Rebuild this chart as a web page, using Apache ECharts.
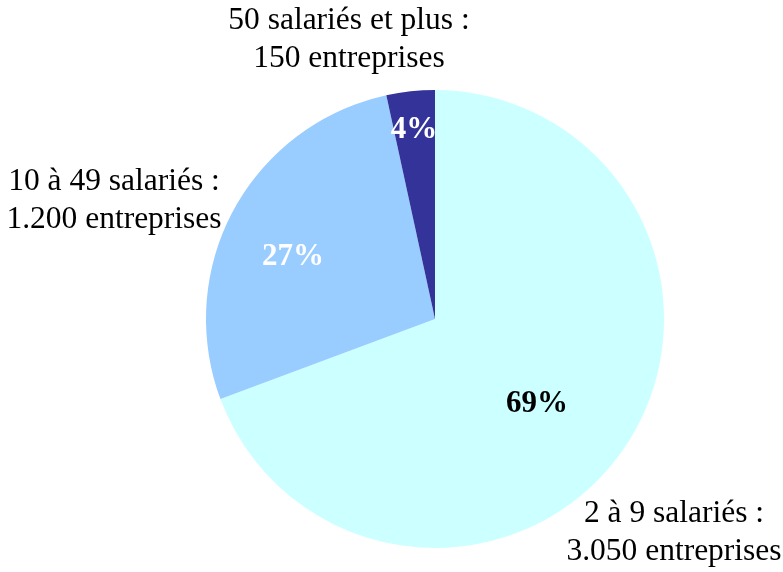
<!DOCTYPE html>
<html>
<head>
<meta charset="utf-8">
<script src="https://cdn.jsdelivr.net/npm/echarts@6/dist/echarts.min.js"></script>
<style>
  html, body { margin: 0; padding: 0; background: #fff; }
  #chart { width: 783px; height: 572px; }
</style>
</head>
<body>
<div id="chart"></div>
<script>
// tranches d'effectif, dans l'ordre du tracé (à partir de midi, sens horaire)
var categories = ['2 à 9 salariés', '10 à 49 salariés', '50 salariés et plus'];
var entreprises = [3050, 1200, 150];
var entreprisesTxt = ['3.050', '1.200', '150'];
var pourcents = ['69%', '27%', '4%'];
var couleurs = ['#CCFFFF', '#99CCFF', '#333399'];
var couleursTexte = ['#000', '#fff', '#fff'];
// placement du libellé % : fraction du rayon et décalage d'angle (degrés)
var rayonLibelle = [0.576, 0.678, 0.834];
var decalAngle = [4.5, -4.7, -0.2];

var CX = 435, CY = 319, R = 229;
var police = '"Liberation Serif", "Times New Roman", serif';

var total = entreprises.reduce(function (a, b) { return a + b; }, 0);
// angle médian de chaque part, en degrés depuis midi (sens horaire)
var anglesMilieu = [];
var cumul = 0;
entreprises.forEach(function (v) {
  anglesMilieu.push((cumul + v / 2) / total * 360);
  cumul += v;
});

var myChart = echarts.init(document.getElementById('chart'));

var data = categories.map(function (c, i) {
  return {
    name: c,
    value: entreprises[i],
    itemStyle: { color: couleurs[i] },
    label: { color: couleursTexte[i], formatter: pourcents[i] }
  };
});

// libellés extérieurs (centre du bloc de deux lignes)
var posExt = [
  { x: 674, y: 533 },
  { x: 114, y: 201 },
  { x: 349, y: 40 }
];
var graphics = categories.map(function (c, i) {
  return {
    type: 'text',
    x: posExt[i].x,
    y: posExt[i].y,
    style: {
      text: c + ' :\n' + entreprisesTxt[i] + ' entreprises',
      font: '31.5px ' + police,
      fill: '#000',
      align: 'center',
      verticalAlign: 'middle',
      lineHeight: 38
    }
  };
});

var option = {
  animation: false,
  backgroundColor: '#fff',
  graphic: graphics,
  series: [{
    type: 'pie',
    center: [CX, CY],
    radius: R,
    startAngle: 90,
    clockwise: true,
    silent: true,
    itemStyle: { borderWidth: 0 },
    label: {
      show: true,
      position: 'inside',
      fontFamily: police,
      fontSize: 31,
      fontWeight: 'bold'
    },
    labelLine: { show: false },
    labelLayout: function (p) {
      var i = p.dataIndex;
      var a = (anglesMilieu[i] + decalAngle[i]) * Math.PI / 180;
      var d = rayonLibelle[i] * R;
      return {
        x: CX + Math.sin(a) * d,
        y: CY - Math.cos(a) * d + 1,
        align: 'center',
        verticalAlign: 'middle'
      };
    },
    data: data
  }]
};

myChart.setOption(option);
window.onresize = myChart.resize;
</script>
</body>
</html>
